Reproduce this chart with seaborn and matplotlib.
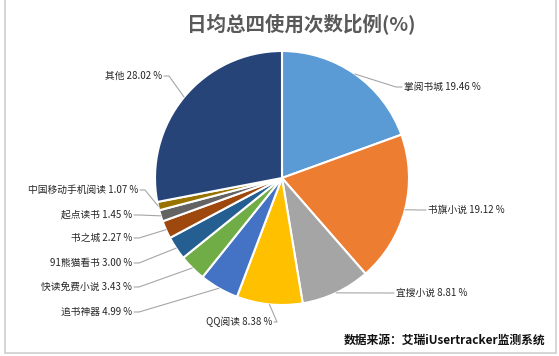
import numpy as np
import matplotlib
matplotlib.use("Agg")
import matplotlib.pyplot as plt
import seaborn as sns

# --- Data ---
apps = ["掌阅书城", "书旗小说", "宜搜小说", "QQ阅读", "追书神器", "快读免费小说",
        "91熊猫看书", "书之城", "起点读书", "中国移动手机阅读", "其他"]
shares = [19.46, 19.12, 8.81, 8.38, 4.99, 3.43, 3.00, 2.27, 1.45, 1.07, 28.02]
colors = ["#5B9BD5", "#ED7D31", "#A5A5A5", "#FFC000", "#4472C4", "#70AD47",
          "#255E91", "#9E480E", "#636363", "#997300", "#264478"]

# label anchor positions in pixels (x, y from top) and text side
label_pos = [(404, 87), (428, 210), (396, 293), (272, 322), (132, 312), (132, 287),
             (132, 263), (132, 238), (132, 215), (138, 190), (162, 76)]
label_side = ["left", "left", "left", "below", "right", "right",
              "right", "right", "right", "right", "right"]

W, H = 559, 356
CX, CY, R = 282, 178, 127

sns.set_theme(style="white")
plt.rcParams["font.family"] = ["Noto Sans CJK SC", "DejaVu Sans"]

fig = plt.figure(figsize=(W / 100, H / 100), dpi=100)
ax = fig.add_axes([0, 0, 1, 1])

wedges, _ = ax.pie(shares, colors=colors, startangle=90, counterclock=False,
                   center=(CX, H - CY), radius=R,
                   wedgeprops=dict(edgecolor="white", linewidth=1.5))
ax.set_xlim(0, W)
ax.set_ylim(0, H)
ax.set_aspect("equal")
ax.axis("off")

line_kw = dict(color="#A6A6A6", lw=0.8)
txt_kw = dict(fontsize=7, color="#262626", va="center")

# labels with leader lines
for w, name, val, (px, py), side in zip(wedges, apps, shares, label_pos, label_side):
    ang = np.deg2rad((w.theta1 + w.theta2) / 2)
    ex = CX + R * np.cos(ang)
    ey = (H - CY) + R * np.sin(ang)
    ty = H - py
    label = f"{name} {val:.2f} %"
    if side == "left":
        ax.plot([ex, px - 8, px - 2], [ey, ty, ty], **line_kw)
        ax.text(px, ty, label, ha="left", **txt_kw)
    elif side == "right":
        ax.plot([px + 2, px + 7, ex], [ty, ty, ey], **line_kw)
        ax.text(px, ty, label, ha="right", **txt_kw)
    else:
        ax.plot([px + 2, px + 5, ex], [ty, ty, ey], **line_kw)
        ax.text(px, ty, label, ha="right", **txt_kw)

ax.text(301, H - 25, "日均总四使用次数比例(%)", ha="center", va="center",
        fontsize=14, fontweight="bold", color="#595959")
ax.text(545, H - 340, "数据来源：艾瑞iUsertracker监测系统", ha="right", va="center",
        fontsize=8.5, fontweight="bold", color="#111111")

# thin frame lines
ax.plot([5, 5], [H, 3], color="#D0D0D0", lw=1.2)
ax.plot([5, 556], [3, 3], color="#D0D0D0", lw=1.2)
ax.plot([556, 556], [3, H], color="#D0D0D0", lw=1.2)

fig.savefig("out.png", dpi=100)
